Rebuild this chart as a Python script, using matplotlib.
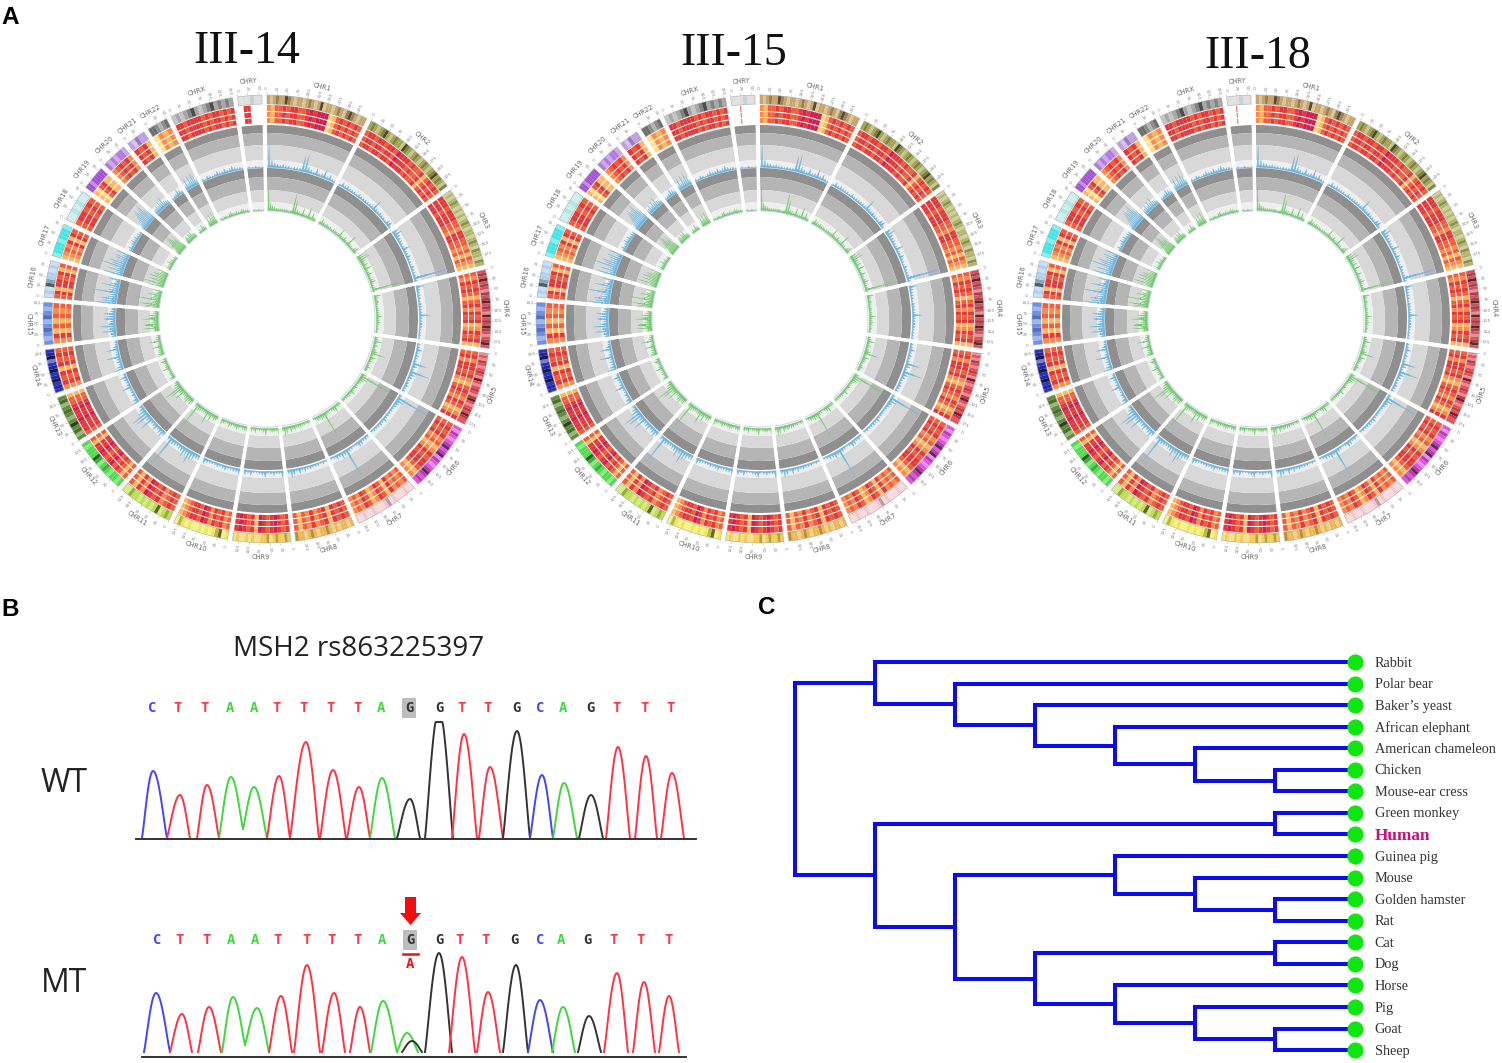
import numpy as np
import matplotlib
matplotlib.use('Agg')
import matplotlib.pyplot as plt

W, H = 1502, 1063

# ---- panel A data ----
panel_names = ['III-14', 'III-15', 'III-18']
chroms = ['CHR1', 'CHR2', 'CHR3', 'CHR4', 'CHR5', 'CHR6', 'CHR7', 'CHR8', 'CHR9', 'CHR10', 'CHR11', 'CHR12',
          'CHR13', 'CHR14', 'CHR15', 'CHR16', 'CHR17', 'CHR18', 'CHR19', 'CHR20', 'CHR21', 'CHR22', 'CHRX', 'CHRY']
chrom_mb = [249, 243, 198, 191, 181, 171, 159, 146, 141, 136, 135, 134, 115, 107, 103, 90, 81, 78, 59, 63, 48, 51, 155, 59]
chrom_colors = ['#c9a465', '#a5a54f', '#b3b865', '#d94f5c', '#ee4a55', '#e84fe0', '#f2c6cc', '#f0b64f',
                '#f0cf50', '#eeea55', '#bfe04a', '#4fdf4a', '#5f8f3a', '#2a35c0', '#6f90e8', '#b0d0f0',
                '#45e6e6', '#b5e5e5', '#a650d8', '#b477e6', '#c49cee', '#8c8c8c', '#a8a8a8', '#cfcfcf']

# ideogram bands: 0 pale, 1 base colour, 2 dark, 3 very dark
bands = ['1012113210110121013011012102321011', '1210123101211032101210121012312102', '0101210101012101101210211021', '1213121021231210312132101231',
         '0102101210310121023101213211', '1021012312302101232121', '0010001021000100100', '1011010121101210112',
         '1211210211001010010', '1032101010010120', '1210310101011200', '1011012102311101', '1021310121021',
         '1213213210321', '1012102101', '0103211010', '011101110', '0010100', '11011111', '1010110', '10211', '221012', '0101231012312121', '000100']

# heat rings: 0 pale yellow ... 5 crimson
heat = ['2133434433454555013434343', '3443443443544434334134343', '44434443324433231321', '3243431342434124341',
        '342443421343243124', '343423124344312', '323241342134232', '3434143242313',
        '43454345143454', '32434245344321', '343243452413', '31343543454413', '344454454331',
        '243414343', '24131323', '341443413', '12324143', '344343', '103411', '234342', '4341', '0212', '4434444343443434', '44']
heat_colors = ['#fde08a', '#fdb863', '#f98c4a', '#ef5f3c', '#e23a3a', '#cf2150']
y_heat_start = [0.2, 0.35, 0.35]
y_heat_width = [0.3, 0.04, 0.04]

# signal heights in track pixels
blue_peaks = [[22, 8, 5, 4, 3, 4, 3, 3, 2, 3, 3, 3, 16, 18, 6, 4, 3, 7, 3, 4, 9, 3, 6, 3, 2],
              [2, 5, 3, 4, 3, 3, 3, 2, 4, 3, 3, 3, 3, 3, 3, 12, 4, 3, 4, 3, 3, 2, 5, 6, 2],
              [7, 9, 5, 4, 4, 3, 3, 8, 3, 3, 5, 3, 3, 2, 4, 3, 3, 3, 34, 3],
              [8, 4, 3, 3, 3, 2, 3, 3, 3, 3, 10, 3, 3, 3, 3, 2, 2, 2, 2],
              [3, 3, 6, 3, 4, 3, 3, 14, 5, 3, 20, 6, 4, 3, 3, 4, 3, 3],
              [3, 34, 8, 5, 4, 3, 3, 3, 3, 3, 5, 3, 4, 3, 3, 3, 2],
              [3, 4, 3, 5, 6, 3, 2, 3, 4, 30, 5, 7, 4, 5, 3, 2],
              [2, 3, 2, 3, 3, 3, 4, 3, 5, 3, 6, 3, 6, 8, 4],
              [7, 3, 3, 4, 3, 2, 6, 4, 3, 2, 2, 5, 3, 5],
              [6, 4, 4, 3, 3, 5, 4, 3, 4, 3, 3, 3, 4, 6],
              [5, 5, 7, 9, 14, 7, 10, 6, 5, 4, 5, 6, 30, 4],
              [5, 8, 6, 4, 7, 5, 4, 14, 6, 16, 18, 9, 6, 4],
              [8, 6, 3, 4, 3, 3, 10, 4, 3, 4, 7, 3],
              [10, 7, 4, 5, 4, 14, 4, 3, 12, 5, 3, 3],
              [5, 6, 14, 8, 16, 8, 6, 12, 9, 12, 6, 5],
              [22, 14, 16, 10, 8, 26, 10, 8, 18, 9, 5, 12],
              [20, 8, 16, 9, 24, 14, 18, 10, 12, 14, 8, 14],
              [3, 5, 3, 4, 6, 4, 5, 3, 4, 3],
              [4, 8, 10, 14, 18, 20, 16, 18, 22, 14, 10],
              [5, 6, 8, 6, 10, 7, 12, 6, 5, 4],
              [2, 3, 4, 8, 5, 3],
              [5, 12, 6, 13, 8, 14, 10, 5],
              [3, 2, 4, 3, 2, 3, 5, 3, 3, 5, 3, 4, 6, 4, 3, 3, 2],
              [2, 1, 2, 1, 1]]
green_peaks = [[24, 8, 5, 4, 3, 3, 3, 3, 3, 3, 2, 3, 20, 14, 5, 4, 3, 8, 3, 3, 11, 3, 7, 3, 2],
               [3, 6, 4, 3, 4, 3, 3, 2, 3, 3, 3, 3, 9, 3, 3, 5, 3, 3, 12, 3, 3, 2, 5, 7, 2],
               [8, 10, 12, 6, 4, 6, 3, 8, 3, 3, 6, 3, 3, 4, 6, 3, 3, 3, 36, 3],
               [7, 4, 3, 4, 3, 2, 3, 3, 3, 3, 6, 3, 3, 4, 3, 2, 3, 2, 2],
               [3, 4, 8, 3, 5, 3, 4, 6, 14, 3, 6, 4, 4, 3, 3, 5, 3, 3],
               [5, 36, 9, 6, 4, 3, 3, 4, 3, 3, 6, 3, 4, 3, 3, 3, 3],
               [3, 4, 3, 7, 5, 3, 2, 3, 4, 26, 5, 6, 4, 5, 3, 2],
               [3, 3, 2, 3, 3, 4, 4, 3, 5, 4, 6, 3, 7, 9, 4],
               [6, 3, 4, 4, 3, 2, 7, 4, 3, 3, 2, 5, 3, 4],
               [6, 5, 4, 3, 4, 5, 4, 3, 4, 5, 3, 3, 4, 6],
               [4, 5, 6, 4, 9, 5, 14, 5, 4, 4, 5, 6, 28, 4],
               [5, 7, 6, 9, 7, 5, 4, 12, 6, 14, 20, 8, 6, 4],
               [7, 5, 3, 4, 3, 3, 8, 4, 3, 4, 6, 3],
               [9, 7, 5, 5, 4, 10, 4, 3, 12, 5, 4, 3],
               [5, 6, 15, 8, 14, 8, 6, 16, 9, 10, 6, 5],
               [16, 14, 20, 9, 8, 24, 10, 8, 14, 9, 5, 10],
               [18, 8, 22, 9, 16, 10, 18, 12, 14, 10, 8, 12],
               [3, 5, 4, 4, 7, 4, 5, 3, 4, 3],
               [4, 6, 12, 16, 20, 24, 18, 14, 18, 10, 6],
               [4, 6, 8, 5, 9, 7, 10, 5, 5, 4],
               [2, 4, 3, 7, 4, 3],
               [4, 10, 6, 12, 7, 13, 9, 4],
               [3, 2, 3, 3, 2, 4, 5, 3, 3, 4, 3, 3, 5, 4, 3, 3, 2],
               [2, 1, 2, 1, 1]]

# ---- panel B data: peak centre, height, feet along the read (pixels of the trace) ----
wt_bases = list('CTTAATTTTAGGTTGCAGTTT')
wt_letter_x = [152, 178, 205, 230, 254, 277, 304, 331, 358, 381, 409, 439, 462, 488, 516, 540, 563, 590, 617, 645, 671]
wt_centers = [153, 180, 207, 231, 254, 279, 306, 333, 359, 382, 410, 439, 464, 490, 517, 542, 564, 591, 618, 646, 672]
wt_heights = [67, 43, 53, 61, 51, 62, 96, 68, 51, 60, 39, 128, 104, 71, 107, 63, 55, 43, 91, 82, 65]
wt_left = [142, 167, 197, 219, 243, 267, 290, 320, 347, 370, 397, 425, 452, 479, 503, 530, 553, 579, 606, 635, 661]
wt_right = [167, 190, 219, 243, 267, 290, 319, 346, 370, 395, 420, 453, 477, 503, 530, 553, 577, 603, 630, 657, 684]
wt_valleys = {3: 9}
wt_clip = 116
mt_trace_bases = ['C', 'T', 'T', 'A', 'A', 'T', 'T', 'T', 'T', 'A', 'A', 'G', 'G', 'T', 'T', 'G', 'C', 'A', 'G', 'T', 'T', 'T']
mt_letters = list('CTTAATTTTAGGTTGCAGTTT')
mt_letter_x = [157, 180, 207, 231, 255, 278, 307, 332, 358, 382, 410, 439, 460, 486, 514, 540, 561, 587, 614, 641, 669]
mt_centers = [156, 182, 209, 233, 257, 281, 307, 334, 360, 383, 407, 412, 439, 462, 488, 516, 540, 563, 589, 617, 644, 669]
mt_heights = [59, 38, 45, 55, 44, 56, 87, 59, 45, 51, 19, 11, 99, 95, 60, 87, 52, 45, 36, 79, 70, 56]
mt_left = [144, 170, 198, 222, 245, 269, 294, 322, 350, 371, 397, 402, 425, 449, 477, 503, 528, 552, 578, 604, 633, 659]
mt_right = [170, 192, 221, 245, 269, 292, 320, 345, 370, 397, 418, 422, 452, 475, 500, 528, 553, 575, 601, 628, 655, 679]
mt_valleys = {3: 7}
base_colors = {'A': '#3ed83e', 'C': '#4444ff', 'G': '#333333', 'T': '#ff3344'}

# ---- panel C data: (depth of the split, upper child, lower child) ----
leaves = ['Rabbit', 'Polar bear', "Baker's yeast", 'African elephant', 'American chameleon', 'Chicken',
          'Mouse-ear cress', 'Green monkey', 'Human', 'Guinea pig', 'Mouse', 'Golden hamster', 'Rat',
          'Cat', 'Dog', 'Horse', 'Pig', 'Goat', 'Sheep']
clade_a = (1, 'Rabbit', (2, 'Polar bear', (3, "Baker's yeast", (4, 'African elephant',
          (5, 'American chameleon', (6, 'Chicken', 'Mouse-ear cress'))))))
rodents = (4, 'Guinea pig', (5, 'Mouse', (6, 'Golden hamster', 'Rat')))
ungulates = (3, (6, 'Cat', 'Dog'), (4, 'Horse', (5, 'Pig', (6, 'Goat', 'Sheep'))))
clade_b = (1, (6, 'Green monkey', 'Human'), (2, rodents, ungulates))
tree = (0, clade_a, clade_b)
leaf_depth = 7


def px_axes(x0, y0, x1, y1, **kw):
    return fig.add_axes([x0 / W, 1 - y1 / H, (x1 - x0) / W, (y1 - y0) / H], **kw)


def mix(color, other, amount):
    c = np.array(matplotlib.colors.to_rgb(color))
    return tuple(c * (1 - amount) + np.array(matplotlib.colors.to_rgb(other)) * amount)


def band_color(color, level):
    if level == 0:
        return mix(color, 'white', 0.35)
    if level == 1:
        return color
    if level == 2:
        return mix(color, 'black', 0.22)
    return mix(color, 'black', 0.55)


def draw_cells(ax, start, span, values, colors, r0, r1):
    step = span / len(values)
    thetas = start + step * (np.arange(len(values)) + 0.5)
    ax.bar(thetas, r1 - r0, width=step * 1.02, bottom=r0, color=colors, linewidth=0)


def spike_outline(start, span, peaks):
    # narrow spike at each value, with a low shoulder on both sides
    step = span / len(peaks)
    th, vals = [start], [1.0]
    for i, v in enumerate(peaks):
        c = start + step * (i + 0.5)
        shoulder = min(0.35 * v, 2.2)
        th += [c - step * 0.3, c, c + step * 0.3]
        vals += [shoulder, v, shoulder]
    th.append(start + span)
    vals.append(1.0)
    return np.array(th), np.array(vals)


def draw_circos(ax, idx):
    gap = np.radians(1.3)
    scale = (2 * np.pi - gap * len(chroms)) / sum(chrom_mb)
    start = 0.0
    for c, name in enumerate(chroms):
        span = chrom_mb[c] * scale
        mid = start + span / 2
        base = chrom_colors[c]

        # ideogram
        cols = [band_color(base, int(v)) for v in bands[c]]
        draw_cells(ax, start, span, bands[c], cols, 215, 224)
        ax.bar(mid, 9, width=span, bottom=215, color='none', edgecolor='#aaaaaa', linewidth=0.4)

        # heat rings
        for r0, r1 in [(208, 214), (202, 207), (196, 201)]:
            cols = [heat_colors[int(v)] for v in heat[c]]
            if name == 'CHRY':
                draw_cells(ax, start + span * y_heat_start[idx], span * y_heat_width[idx], heat[c], cols, r0, r1)
            else:
                draw_cells(ax, start, span, heat[c], cols, r0, r1)

        # grey tracks
        for r0, r1, col in [(186, 194, '#8f8f8f'), (174, 186, '#b5b5b5'), (159, 174, '#d8d8d8'), (152, 159, '#efefef'),
                            (142, 151, '#8f8f8f'), (129, 142, '#b5b5b5'), (117, 129, '#d8d8d8'), (109, 117, '#efefef')]:
            ax.bar(mid, r1 - r0, width=span, bottom=r0, color=col, linewidth=0)

        # signal tracks
        for peaks, r0, col in [(blue_peaks[c], 152, '#6fb6de'), (green_peaks[c], 109, '#74ca6f')]:
            th, vals = spike_outline(start, span, peaks)
            ax.fill_between(th, r0, r0 + vals, color=col, linewidth=0.2, zorder=3)
        ax.plot(np.linspace(start, start + span, 20), np.full(20, 108), color='#c9c9ef', lw=0.6, zorder=3)

        # ticks and labels outside the ideogram
        for mb in np.arange(0, chrom_mb[c], 25):
            t = start + mb * scale
            deg = np.degrees(t)
            ax.plot([t, t], [225, 226.5], color='#999999', lw=0.3)
            rot = 90 - deg if deg < 180 else 270 - deg
            ax.text(t, 231, str(mb), fontsize=3.2, color='#888888', rotation=rot,
                    rotation_mode='anchor', ha='center', va='center')
        deg = np.degrees(mid)
        rot = -deg if (deg < 90 or deg > 270) else 180 - deg
        ax.text(mid, 238, name, fontsize=4.8, color='#666666', rotation=rot,
                rotation_mode='anchor', ha='center', va='center')

        # white gap at the end of this chromosome
        t_gap = start + span + gap / 2
        ax.plot([t_gap, t_gap], [107, 196], color='white', lw=2.4, zorder=4, solid_capstyle='butt')
        start += span + gap

    ax.set_theta_zero_location('N')
    ax.set_theta_direction(-1)
    ax.set_ylim(0, 245)
    ax.axis('off')
    ax.patch.set_visible(False)


def bell(center, height, left, right, floor_l, floor_r, clip=None):
    x = np.linspace(left, right, 40)
    half = np.where(x < center, center - left, right - center)
    floor = np.where(x < center, floor_l, floor_r)
    y = floor + (height - floor) * np.abs(np.cos(np.pi / 2 * (x - center) / half)) ** 1.15
    if clip is not None:
        y = np.minimum(y, clip)
    return x, y


def draw_trace(ax, bases, centers, heights, left, right, foot_y, valleys, clip=None):
    for i, (b, c, h, l, r) in enumerate(zip(bases, centers, heights, left, right)):
        x, y = bell(c, h, l, r, valleys.get(i - 1, 0), valleys.get(i, 0), clip)
        ax.plot(x, foot_y - y, color=base_colors[b], lw=1.4, solid_joinstyle='round')


def draw_letters(ax, bases, xs, y, mark):
    for i, (b, x) in enumerate(zip(bases, xs)):
        box = dict(facecolor='#bdbdbd', edgecolor='none', pad=2.0) if i == mark else None
        ax.text(x, y, b, color=base_colors[b], fontsize=10, fontweight='bold', family='DejaVu Sans Mono',
                ha='center', va='center', bbox=box)


def tree_y(node):
    if isinstance(node, str):
        return leaves.index(node)
    return (tree_y(node[1]) + tree_y(node[2])) / 2


def tree_x(node):
    return leaf_depth if isinstance(node, str) else node[0]


def draw_tree(ax, node):
    if isinstance(node, str):
        return
    d, up, low = node
    style = dict(color='#0c0ce8', lw=2.9, solid_capstyle='projecting', zorder=2)
    ax.plot([d, d], [tree_y(up), tree_y(low)], **style)
    for child in (up, low):
        ax.plot([d, tree_x(child)], [tree_y(child), tree_y(child)], **style)
        draw_tree(ax, child)


fig = plt.figure(figsize=(W / 100, H / 100), dpi=100, facecolor='white')

# page layer for the free text and panel B, in picture pixels
page = px_axes(0, 0, W, H)
page.set_xlim(0, W)
page.set_ylim(H, 0)
page.axis('off')

# A
for i, cx in enumerate([267, 760, 1256]):
    ax = px_axes(cx - 245, 319 - 245, cx + 245, 319 + 245, projection='polar')
    draw_circos(ax, i)
for name, x, y in zip(panel_names, [247, 734, 1258], [52, 54, 57]):
    page.text(x, y, name, family='Liberation Serif', fontsize=33, color='#111111', ha='center', va='center')

# B
page.text(359, 649, 'MSH2 rs863225397', family='Open Sans', fontsize=20, color='#222222', ha='center', va='center')
page.text(64, 784, 'WT', family='Open Sans', fontsize=23, color='#222222', ha='center', va='center')
page.text(64, 984, 'MT', family='Open Sans', fontsize=23, color='#222222', ha='center', va='center')
draw_letters(page, wt_bases, wt_letter_x, 708, 10)
draw_trace(page, wt_bases, wt_centers, wt_heights, wt_left, wt_right, 838, wt_valleys, wt_clip)
page.plot([136, 696], [838.5, 838.5], color='#333333', lw=1.4)
draw_letters(page, mt_letters, mt_letter_x, 940, 10)
draw_trace(page, mt_trace_bases, mt_centers, mt_heights, mt_left, mt_right, 1052, mt_valleys)
page.plot([142, 686], [1057, 1057], color='#333333', lw=1.4)
page.arrow(410.5, 897, 0, 28, width=11, head_width=21, head_length=12, length_includes_head=True,
           facecolor='#f50d0d', edgecolor='none')
page.plot([403, 418], [953.5, 953.5], color='#f50d0d', lw=1.8)
page.text(410, 964, 'A', color='#f50d0d', fontsize=10, fontweight='bold', family='DejaVu Sans Mono',
          ha='center', va='center')

# C
x_unit, y_unit = 80.0, 21.56
ax_tree = px_axes(780, 645, 1502, 1063)
ax_tree.set_xlim((780 - 795) / x_unit, (1502 - 795) / x_unit)
ax_tree.set_ylim((1063 - 662) / y_unit, (645 - 662) / y_unit)
ax_tree.axis('off')
draw_tree(ax_tree, tree)
ax_tree.scatter([leaf_depth] * len(leaves), range(len(leaves)), s=135, color='#0fe60f', linewidth=0, zorder=3)
for i, name in enumerate(leaves):
    human = name == 'Human'
    ax_tree.text(leaf_depth + 0.245, i + 0.05, name.replace("'", '\u2019'), family='Liberation Serif',
                 fontsize=12.4 if human else 10.3, va='center',
                 fontweight='bold' if human else 'normal', color='#c8107e' if human else '#333333')

# panel letters
for letter, x, y in [('A', 10, 17), ('B', 10, 609), ('C', 767, 608)]:
    page.text(x, y, letter, family='Liberation Sans', fontsize=17.5, fontweight='bold', color='black',
              ha='center', va='center')

fig.savefig('out.png', dpi=100)
